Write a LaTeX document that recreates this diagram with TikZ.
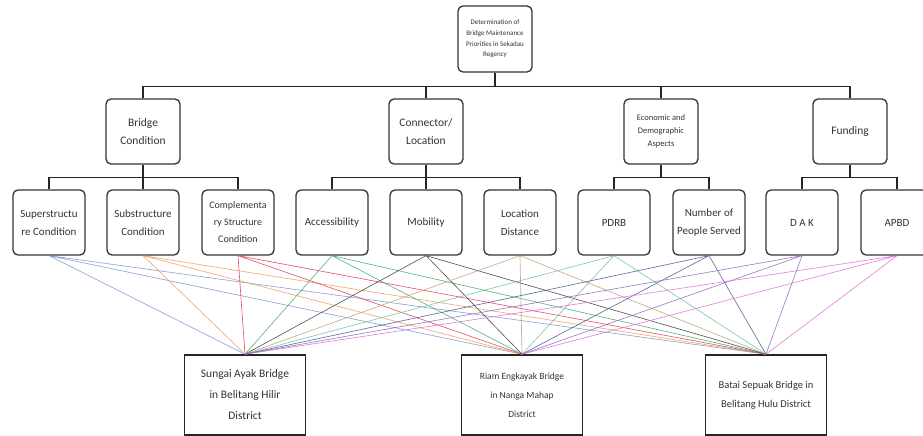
\documentclass[tikz,border=0pt]{standalone}
\usepackage{fontspec}
\setmainfont{Carlito}
\usepackage{xcolor}
\usepackage{tikz}
\usetikzlibrary{shapes.geometric, arrows}
\definecolor{supc}{RGB}{120,150,205}
\definecolor{subc}{RGB}{240,155,85}
\definecolor{comc}{RGB}{225,60,85}
\definecolor{accc}{RGB}{65,170,110}
\definecolor{mobc}{RGB}{60,60,60}
\definecolor{locc}{RGB}{185,160,115}
\definecolor{pdrc}{RGB}{115,190,165}
\definecolor{nopc}{RGB}{75,85,145}
\definecolor{dakc}{RGB}{145,105,185}
\definecolor{apbc}{RGB}{220,110,215}
\tikzstyle{goal} = [rectangle, rounded corners=5pt, minimum width=74pt, minimum height=66pt, inner sep=2pt, align=center, draw=black!80, line width=1.3pt, text=black!80, font=\fontsize{7}{10.7}\selectfont]
\tikzstyle{crit} = [rectangle, rounded corners=5pt, minimum width=74pt, minimum height=65pt, align=center, draw=black!80, line width=1.3pt, text=black!80, font=\fontsize{11.5}{18}\selectfont]
\tikzstyle{subcrit} = [rectangle, rounded corners=5pt, minimum width=72pt, minimum height=65pt, inner sep=2pt, align=center, draw=black!80, line width=1.3pt, text=black!80, font=\fontsize{11}{18}\selectfont]
\tikzstyle{alt} = [rectangle, minimum width=121pt, minimum height=80pt, align=center, draw=black!85, line width=1.6pt, text=black!80, font=\fontsize{11.5}{21}\selectfont]
\tikzstyle{tree} = [line width=1.2pt, black!85]
\tikzstyle{link} = [line width=0.65pt, opacity=0.85]

\begin{document}
\begin{tikzpicture}[x=1pt, y=1pt]
   \useasboundingbox (0,0) rectangle (923,436);
   % goal
   \node (g) [goal] at (495,397) {Determination of\\Bridge Maintenance\\Priorities in Sekadau\\Regency};
   % criteria
   \node (bc) [crit] at (143,304.5) {Bridge\\Condition};
   \node (cl) [crit] at (426,304.5) {Connector/\\Location};
   \node (ec) [crit, font=\fontsize{8.5}{13}\selectfont] at (661,304.5) {Economic and\\Demographic\\Aspects};
   \node (fu) [crit] at (850,304.5) {Funding};
   % sub criteria
   \node (s1) [subcrit] at (49,213.5) {Superstructu\\re Condition};
   \node (s2) [subcrit] at (143,213.5) {Substructure\\Condition};
   \node (s3) [subcrit, font=\fontsize{10}{17}\selectfont] at (238,213.5) {Complementa\\ry Structure\\Condition};
   \node (c1) [subcrit] at (332,213.5) {Accessibility};
   \node (c2) [subcrit] at (426,213.5) {Mobility};
   \node (c3) [subcrit] at (520,213.5) {Location\\Distance};
   \node (e1) [subcrit] at (614,213.5) {PDRB};
   \node (e2) [subcrit] at (709,213.5) {Number of\\People Served};
   \node (f1) [subcrit] at (802,213.5) {D A K};
   \node (f2) [subcrit] at (897,213.5) {APBD};
   % alternatives
   \node (a1) [alt] at (245,41) {Sungai Ayak Bridge\\in Belitang Hilir\\District};
   \node (a2) [alt, font=\fontsize{9.5}{19}\selectfont] at (522,41) {Riam Engkayak Bridge\\in Nanga Mahap\\District};
   \node (a3) [alt, font=\fontsize{10.5}{19}\selectfont] at (766,41) {Batai Sepuak Bridge in\\Belitang Hulu District};

   % hierarchy lines
   \draw [tree] (g.south) -- ++(0,-14) coordinate (gb);
   \draw [tree] (bc.north) |- (gb);
   \draw [tree] (fu.north) |- (gb);
   \draw [tree] (cl.north) -- (cl.north |- gb);
   \draw [tree] (ec.north) -- (ec.north |- gb);
   \draw [tree] (bc.south) -- ++(0,-13) coordinate (bcb);
   \draw [tree] (s1.north) |- (bcb);
   \draw [tree] (s3.north) |- (bcb);
   \draw [tree] (s2.north) -- (s2.north |- bcb);
   \draw [tree] (cl.south) -- ++(0,-13) coordinate (clb);
   \draw [tree] (c1.north) |- (clb);
   \draw [tree] (c3.north) |- (clb);
   \draw [tree] (c2.north) -- (c2.north |- clb);
   \draw [tree] (ec.south) -- ++(0,-13) coordinate (ecb);
   \draw [tree] (e1.north) |- (ecb);
   \draw [tree] (e2.north) |- (ecb);
   \draw [tree] (fu.south) -- ++(0,-13) coordinate (fub);
   \draw [tree] (f1.north) |- (fub);
   \draw [tree] (f2.north) |- (fub);

   % links to alternatives
   \draw [link, supc] (s1.south) -- (a1.north) (s1.south) -- (a2.north) (s1.south) -- (a3.north);
   \draw [link, subc] (s2.south) -- (a1.north) (s2.south) -- (a2.north) (s2.south) -- (a3.north);
   \draw [link, comc] (s3.south) -- (a1.north) (s3.south) -- (a2.north) (s3.south) -- (a3.north);
   \draw [link, accc] (c1.south) -- (a1.north) (c1.south) -- (a2.north) (c1.south) -- (a3.north);
   \draw [link, mobc] (c2.south) -- (a1.north) (c2.south) -- (a2.north) (c2.south) -- (a3.north);
   \draw [link, locc] (c3.south) -- (a1.north) (c3.south) -- (a2.north) (c3.south) -- (a3.north);
   \draw [link, pdrc] (e1.south) -- (a1.north) (e1.south) -- (a2.north) (e1.south) -- (a3.north);
   \draw [link, nopc] (e2.south) -- (a1.north) (e2.south) -- (a2.north) (e2.south) -- (a3.north);
   \draw [link, dakc] (f1.south) -- (a1.north) (f1.south) -- (a2.north) (f1.south) -- (a3.north);
   \draw [link, apbc] (f2.south) -- (a1.north) (f2.south) -- (a2.north) (f2.south) -- (a3.north);
\end{tikzpicture}
\end{document}
